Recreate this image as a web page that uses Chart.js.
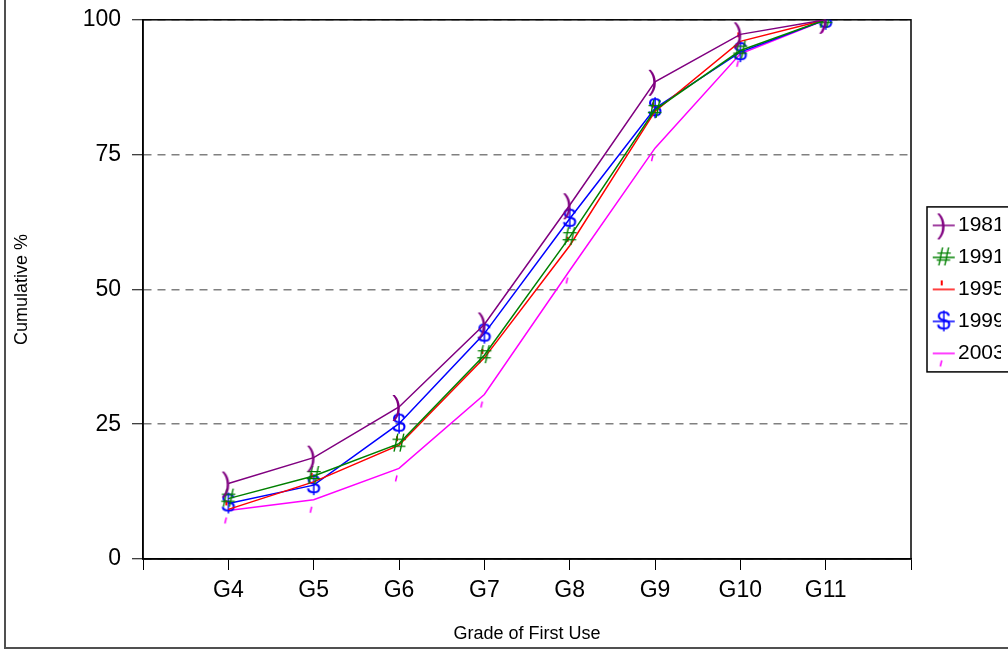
<!DOCTYPE html>
<html>
<head>
<meta charset="utf-8">
<script src="https://cdn.jsdelivr.net/npm/chart.js@4.4.1/dist/chart.umd.min.js"></script>
<style>
  html, body { margin: 0; padding: 0; background: #fff; overflow: hidden; }
  #frame { position: absolute; left: 4px; top: -10px; width: 1100px; height: 655px; border: 2px solid #505050; }
  #wrap { position: absolute; left: 0; top: -5px; width: 1030px; height: 655px; }
</style>
</head>
<body>
<div id="frame"></div>
<div id="wrap"><canvas id="myChart"></canvas></div>
<script>
// DATOS DEL GRAFICO
const grades = ["G4", "G5", "G6", "G7", "G8", "G9", "G10", "G11"];
const years = ["1981", "1991", "1995", "1999", "2003"];
const s1981 = [14.0, 18.8, 28.2, 43.5, 65.6, 88.5, 97.3, 100];
const s1991 = [11.2, 15.4, 21.4, 37.8, 59.7, 83.3, 94.3, 100];
const s1995 = [9.2, 14.3, 21.1, 37.3, 58.1, 83.0, 96.0, 100];
const s1999 = [10.3, 13.7, 25.1, 41.8, 63.1, 83.6, 94.0, 100];
const s2003 = [9.0, 11.0, 16.8, 30.5, 53.5, 76.2, 93.7, 100];
const yTicks = [0, 25, 50, 75, 100];

const colors = ["#800080", "#008000", "#ff0000", "#0000ff", "#ff00ff"];
const glyphs = [")", "#", "tickUp", "$", "tickDown"];

// MARCADORES (como glifos de texto)
function drawGlyph(ctx, kind, color, cx, cy) {
    ctx.fillStyle = color;
    ctx.strokeStyle = color;
    ctx.textAlign = "center";
    ctx.textBaseline = "middle";
    if (kind === ")") {
        ctx.font = '28px "Liberation Sans", Arial';
        ctx.fillText(")", cx - 2, cy);
    } else if (kind === "#") {
        ctx.font = '26px "Liberation Sans", Arial';
        ctx.fillText("#", cx, cy + 1);
    } else if (kind === "$") {
        ctx.font = '25px "Liberation Sans", Arial';
        ctx.fillText("$", cx, cy + 1);
    } else if (kind === "tickUp") {
        ctx.fillRect(cx - 3, cy - 9, 2, 5);
    } else if (kind === "tickDown") {
        ctx.lineWidth = 1.5;
        ctx.beginPath();
        ctx.moveTo(cx - 2, cy + 7);
        ctx.lineTo(cx - 3.5, cy + 13);
        ctx.stroke();
    }
}

function makeMarker(kind, color) {
    const c = document.createElement("canvas");
    c.width = 32; c.height = 34;
    drawGlyph(c.getContext("2d"), kind, color, 16, 17);
    return c;
}

function makeLegendMarker(kind, color) {
    const c = document.createElement("canvas");
    c.width = 42; c.height = 34;
    const ctx = c.getContext("2d");
    ctx.strokeStyle = color;
    ctx.lineWidth = 1.5;
    ctx.beginPath();
    ctx.moveTo(19, 17);
    ctx.lineTo(41, 17);
    ctx.stroke();
    drawGlyph(ctx, kind, color, 30, 17);
    return c;
}

const seriesList = [s1981, s1991, s1995, s1999, s2003];
const labels = [""].concat(grades, [""]);
const pointMarkers = years.map((y, i) => makeMarker(glyphs[i], colors[i]));
const legendMarkers = years.map((y, i) => makeLegendMarker(glyphs[i], colors[i]));

const datasets = years.map((year, i) => ({
    label: year,
    data: [null].concat(seriesList[i], [null]),
    borderColor: colors[i],
    backgroundColor: colors[i],
    borderWidth: 1.5,
    pointStyle: pointMarkers[i],
    tension: 0
}));

// BORDE DEL AREA Y CAJA DE LA LEYENDA
const framePlugin = {
    id: "framePlugin",
    beforeDatasetsDraw(chart) {
        const { ctx, chartArea: a } = chart;
        ctx.save();
        ctx.strokeStyle = "#000";
        ctx.lineWidth = 1.5;
        ctx.strokeRect(a.left, a.top, a.right - a.left, a.bottom - a.top);
        ctx.restore();
    },
    afterDraw(chart) {
        const lg = chart.legend;
        const hb = lg.legendHitBoxes;
        if (!hb || !hb.length) return;
        const ctx = chart.ctx;
        const top = hb[0].top - 8;
        const bottom = hb[hb.length - 1].top + hb[hb.length - 1].height + 8;
        ctx.save();
        ctx.strokeStyle = "#000";
        ctx.lineWidth = 1.5;
        ctx.strokeRect(lg.left + 16, top, 95, bottom - top);
        ctx.restore();
    }
};

const font = '"Liberation Sans", Arial, sans-serif';

new Chart(document.getElementById("myChart"), {
    type: "line",
    data: { labels, datasets },
    options: {
        responsive: true,
        maintainAspectRatio: false,
        animation: false,
        layout: { padding: { top: 14, right: 29, bottom: 0, left: 0 } },
        scales: {
            x: {
                offset: false,
                afterFit: (s) => { s.height = 91; },
                grid: { drawOnChartArea: false, drawTicks: true, tickLength: 11, tickColor: "#000", tickWidth: 1 },
                border: { display: true, color: "#000", width: 1.5 },
                ticks: { color: "#000", font: { family: font, size: 23 }, padding: 7, autoSkip: false, maxRotation: 0 },
                title: { display: true, text: "Grade of First Use", color: "#000", font: { family: font, size: 18 }, padding: { top: 0, bottom: 5 } }
            },
            y: {
                min: 0,
                max: 100,
                afterFit: (s) => { s.width = 143; },
                afterBuildTicks: (s) => { s.ticks = yTicks.map((v) => ({ value: v })); },
                grid: { color: "#808080", lineWidth: 1.5, tickLength: 11, tickColor: "#000", tickWidth: 1 },
                border: { display: true, color: "#000", width: 1.5, dash: [8, 6] },
                ticks: { color: "#000", font: { family: font, size: 23 }, padding: 11 },
                title: { display: true, text: "Cumulative %", color: "#000", font: { family: font, size: 18 }, padding: { top: 11, bottom: 0 } }
            }
        },
        plugins: {
            legend: {
                position: "right",
                fullSize: false,
                maxWidth: 90,
                labels: {
                    usePointStyle: true,
                    pointStyleWidth: 25.5,
                    padding: 11,
                    color: "#000",
                    font: { family: font, size: 21 },
                    generateLabels: (chart) => {
                        const items = Chart.defaults.plugins.legend.labels.generateLabels(chart);
                        items.forEach((it, i) => { it.pointStyle = legendMarkers[i]; });
                        return items;
                    }
                }
            },
            tooltip: { enabled: false }
        }
    },
    plugins: [framePlugin]
});
</script>
</body>
</html>
